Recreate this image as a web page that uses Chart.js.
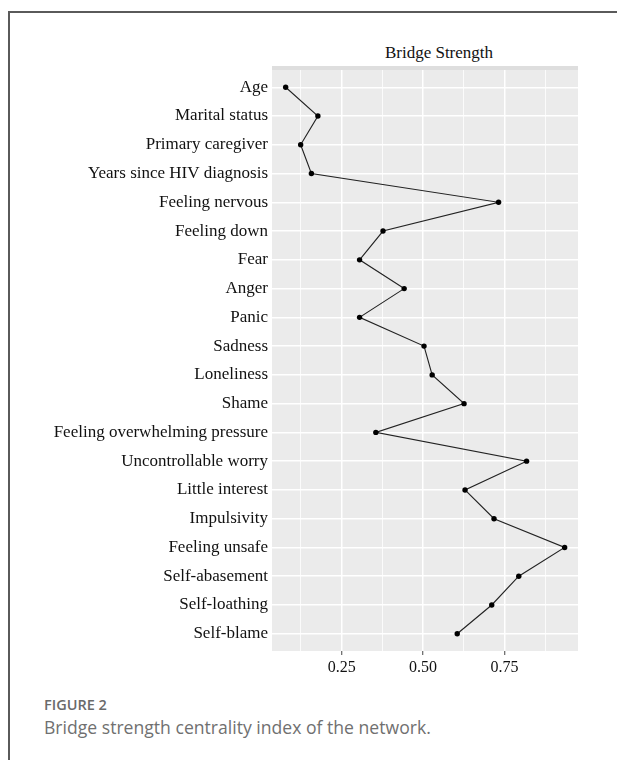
<!DOCTYPE html>
<html lang="en">
<head>
    <meta charset="UTF-8">
    <title>Bridge Strength</title>
    <script src="https://cdn.jsdelivr.net/npm/chart.js"></script>
    <style>
        html { overflow: hidden; }
        body { margin: 0; background: #fff; width: 617px; height: 760px; overflow: hidden; position: relative; }
        .frame { position: absolute; left: 8px; top: 11px; width: 640px; height: 780px;
                 border-left: 2px solid #5a5a5a; border-top: 2px solid #5a5a5a; }
        #chart { position: absolute; left: 20px; top: 30px; }
        .title { position: absolute; left: 339px; top: 44px; width: 200px; text-align: center;
                 font: 17px "Liberation Serif", "Times New Roman", serif; line-height: 18px; color: #111; }
        .fig { position: absolute; left: 44px; top: 695px; font: 600 14.5px "Open Sans", sans-serif;
               line-height: 20px; color: #6a6a6a; }
        .cap { position: absolute; left: 44px; top: 716px; font: 17.6px "Open Sans", sans-serif;
               line-height: 22px; color: #707070; }
    </style>
</head>
<body>
    <div class="frame"></div>
    <div class="title">Bridge Strength</div>
    <canvas id="chart" width="580" height="650"></canvas>
    <div class="fig">FIGURE 2</div>
    <div class="cap">Bridge strength centrality index of the network.</div>

    <script>
        // nodes, top to bottom
        const nodes = [
            'Age', 'Marital status', 'Primary caregiver', 'Years since HIV diagnosis',
            'Feeling nervous', 'Feeling down', 'Fear', 'Anger', 'Panic', 'Sadness',
            'Loneliness', 'Shame', 'Feeling overwhelming pressure', 'Uncontrollable worry',
            'Little interest', 'Impulsivity', 'Feeling unsafe', 'Self-abasement',
            'Self-loathing', 'Self-blame'
        ];
        const bridgeStrength = [
            0.078, 0.177, 0.124, 0.157,
            0.732, 0.377, 0.305, 0.442, 0.305, 0.503,
            0.528, 0.626, 0.355, 0.818,
            0.629, 0.718, 0.935, 0.794,
            0.711, 0.605
        ];
        const xMajor = [0.25, 0.5, 0.75];
        const xMinor = [0.125, 0.375, 0.625, 0.875];

        const points = nodes.map((n, i) => ({ x: bridgeStrength[i], y: i + 1 }));

        // grey ggplot-like panel
        const panelBg = {
            id: 'panelBg',
            beforeDraw(chart) {
                const a = chart.chartArea;
                const ctx = chart.ctx;
                ctx.save();
                ctx.fillStyle = '#dedede';
                ctx.fillRect(a.left, a.top - 4, a.right - a.left, 4);
                ctx.fillStyle = '#ebebeb';
                ctx.fillRect(a.left, a.top, a.right - a.left, a.bottom - a.top);
                ctx.restore();
            }
        };

        const isMajor = v => xMajor.some(m => Math.abs(m - v) < 1e-6);

        new Chart(document.getElementById('chart'), {
            type: 'scatter',
            data: {
                datasets: [{
                    data: points,
                    showLine: true,
                    borderColor: '#222',
                    borderWidth: 1.1,
                    pointRadius: 2.7,
                    pointBackgroundColor: '#000',
                    pointBorderWidth: 0
                }]
            },
            options: {
                responsive: false,
                animation: false,
                layout: { padding: { top: 40, right: 22, left: 0, bottom: 0 } },
                plugins: { legend: { display: false }, tooltip: { enabled: false } },
                scales: {
                    x: {
                        type: 'linear',
                        min: 0.036,
                        max: 0.976,
                        afterBuildTicks: scale => {
                            scale.ticks = xMinor.concat(xMajor).sort((a, b) => a - b).map(v => ({ value: v }));
                        },
                        afterFit: scale => { scale.height = 29; },
                        border: { display: false },
                        grid: {
                            color: '#ffffff',
                            lineWidth: c => (c.tick && isMajor(c.tick.value)) ? 1.5 : 0.8,
                            tickLength: 4,
                            tickColor: c => (c.tick && isMajor(c.tick.value)) ? '#444' : 'rgba(0,0,0,0)',
                            tickWidth: 1
                        },
                        ticks: {
                            autoSkip: false,
                            maxRotation: 0,
                            padding: 3,
                            color: '#111',
                            font: { family: '"Liberation Serif", "Times New Roman", serif', size: 16 },
                            callback: v => isMajor(v) ? v.toFixed(2) : ''
                        }
                    },
                    y: {
                        type: 'linear',
                        reverse: true,
                        min: 0.4,
                        max: 20.6,
                        afterBuildTicks: scale => {
                            scale.ticks = nodes.map((n, i) => ({ value: i + 1 }));
                        },
                        afterFit: scale => { scale.width = 252; },
                        border: { display: false },
                        grid: { color: '#ffffff', lineWidth: 1.5, drawTicks: false },
                        ticks: {
                            autoSkip: false,
                            padding: 4,
                            color: '#111',
                            font: { family: '"Liberation Serif", "Times New Roman", serif', size: 17 },
                            callback: v => nodes[Math.round(v) - 1]
                        }
                    }
                }
            },
            plugins: [panelBg]
        });
    </script>
</body>
</html>
